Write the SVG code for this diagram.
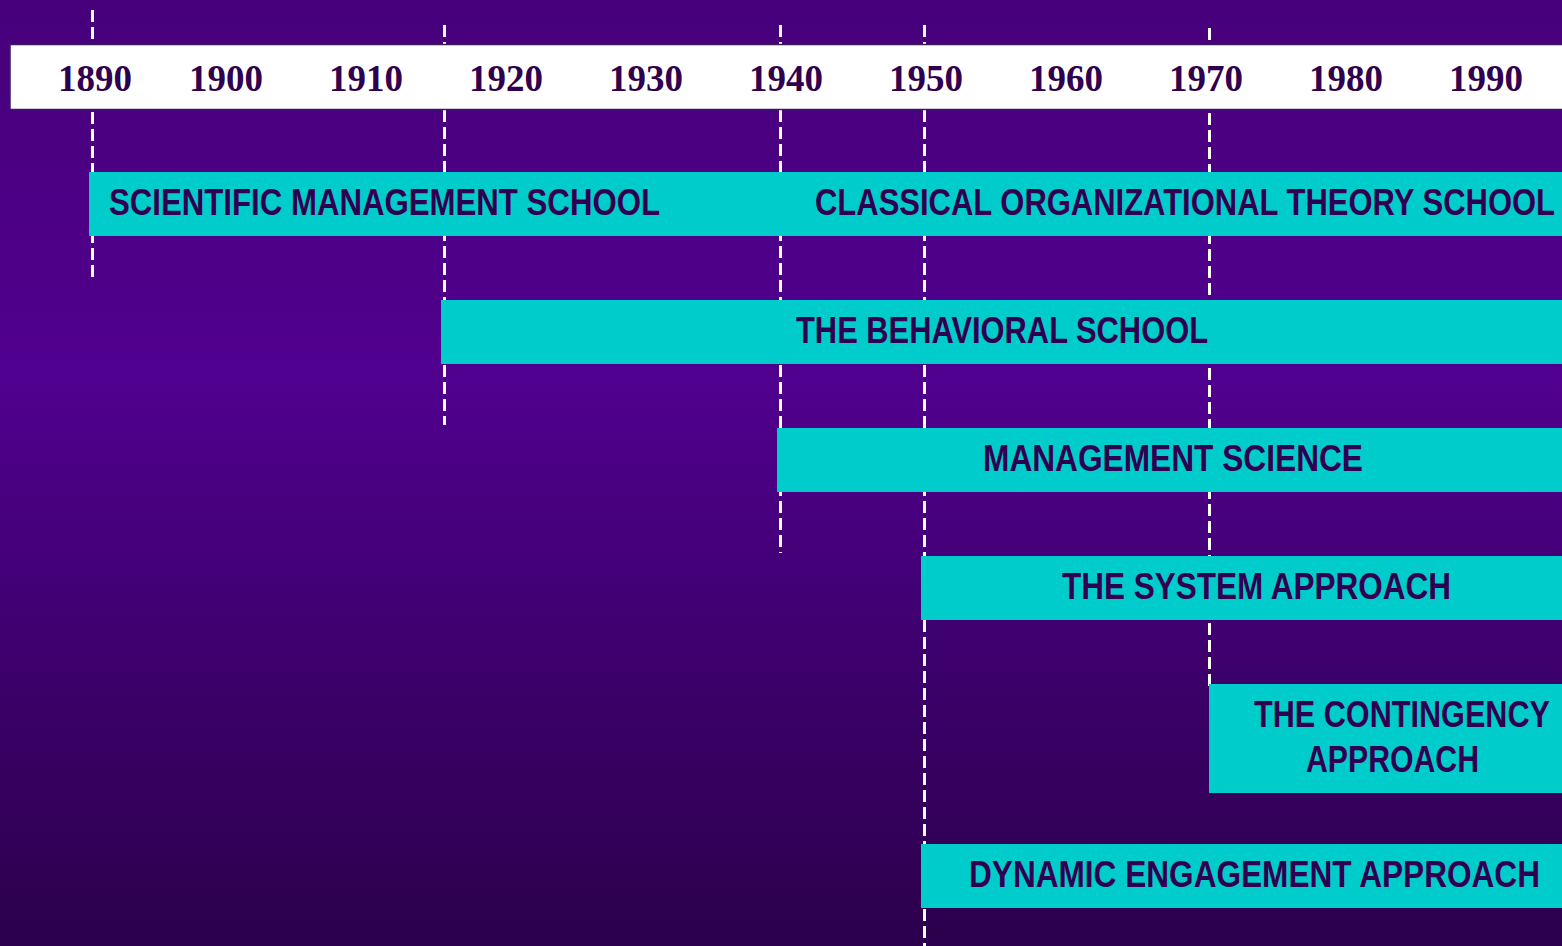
<svg xmlns="http://www.w3.org/2000/svg" width="1562" height="946" viewBox="0 0 1562 946">
<defs>
<linearGradient id="bg" x1="0" y1="0" x2="0" y2="1">
<stop offset="0" stop-color="#47007A"/>
<stop offset="0.4" stop-color="#51008F"/>
<stop offset="0.72" stop-color="#3C006A"/>
<stop offset="1" stop-color="#2C004C"/>
</linearGradient>
<style>
.year{font-family:"Liberation Serif","Times New Roman",serif;font-weight:bold;font-size:37px;fill:#300050;text-anchor:middle}
.bar{fill:#00CCCC}
.lbl{font-family:"Liberation Sans Narrow","Arial Narrow","Liberation Sans",Arial,sans-serif;font-weight:bold;font-size:37px;fill:#300050}
.dash{stroke:#FFFFFF;stroke-width:3;stroke-dasharray:12 5;fill:none}
</style>
</defs>
<rect x="0" y="0" width="1562" height="946" fill="url(#bg)"/>
<g id="connectors">
<line class="dash" x1="92.5" y1="10" x2="92.5" y2="282"/>
<line class="dash" x1="444.5" y1="25" x2="444.5" y2="425"/>
<line class="dash" x1="780.5" y1="25" x2="780.5" y2="553"/>
<line class="dash" x1="924.5" y1="25" x2="924.5" y2="946"/>
<line class="dash" x1="1209.5" y1="28" x2="1209.5" y2="690"/>
</g>
<g id="timeline">
<rect x="10" y="44.5" width="1560" height="65" fill="#FFFFFF" stroke="#3A1A5C" stroke-width="1.5"/>
<text class="year" x="95" y="91">1890</text>
<text class="year" x="226" y="91">1900</text>
<text class="year" x="366" y="91">1910</text>
<text class="year" x="506" y="91">1920</text>
<text class="year" x="646" y="91">1930</text>
<text class="year" x="786" y="91">1940</text>
<text class="year" x="926" y="91">1950</text>
<text class="year" x="1066" y="91">1960</text>
<text class="year" x="1206" y="91">1970</text>
<text class="year" x="1346" y="91">1980</text>
<text class="year" x="1486" y="91">1990</text>
</g>
<g id="scientific-classical">
<rect class="bar" x="89" y="172" width="1473" height="64"/>
<text class="lbl" x="109" y="215" textLength="551" lengthAdjust="spacingAndGlyphs">SCIENTIFIC MANAGEMENT SCHOOL</text>
<text class="lbl" x="815" y="215" textLength="740" lengthAdjust="spacingAndGlyphs">CLASSICAL ORGANIZATIONAL THEORY SCHOOL</text>
</g>
<g id="behavioral">
<rect class="bar" x="441" y="300" width="1121" height="64"/>
<text class="lbl" x="796" y="343" textLength="412" lengthAdjust="spacingAndGlyphs">THE BEHAVIORAL SCHOOL</text>
</g>
<g id="management-science">
<rect class="bar" x="777" y="428" width="785" height="64"/>
<text class="lbl" x="983" y="471" textLength="380" lengthAdjust="spacingAndGlyphs">MANAGEMENT SCIENCE</text>
</g>
<g id="system">
<rect class="bar" x="921" y="556" width="641" height="64"/>
<text class="lbl" x="1062" y="599" textLength="389" lengthAdjust="spacingAndGlyphs">THE SYSTEM APPROACH</text>
</g>
<g id="contingency">
<rect class="bar" x="1209" y="684" width="353" height="109"/>
<text class="lbl" x="1254" y="727" textLength="296" lengthAdjust="spacingAndGlyphs">THE CONTINGENCY</text>
<text class="lbl" x="1306" y="772" textLength="173" lengthAdjust="spacingAndGlyphs">APPROACH</text>
</g>
<g id="dynamic">
<rect class="bar" x="921" y="844" width="641" height="64"/>
<text class="lbl" x="969" y="887" textLength="571" lengthAdjust="spacingAndGlyphs">DYNAMIC ENGAGEMENT APPROACH</text>
</g>
</svg>
